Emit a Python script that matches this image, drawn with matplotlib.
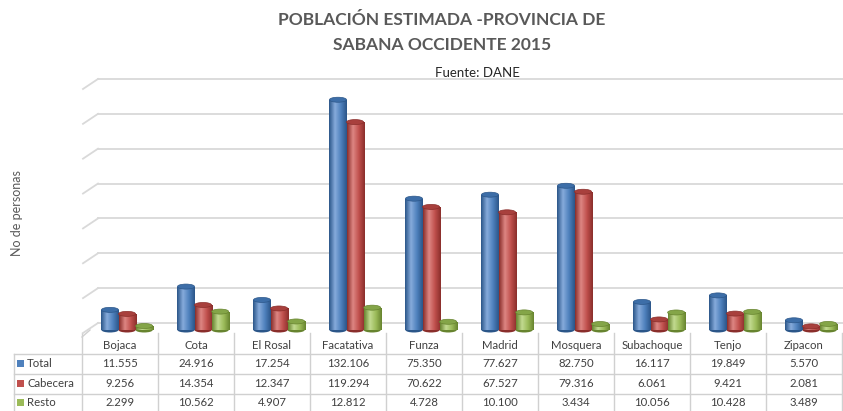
import numpy as np
import matplotlib
matplotlib.use('Agg')
import matplotlib.pyplot as plt
from matplotlib.colors import LinearSegmentedColormap, to_rgb
from matplotlib.patches import Ellipse, Rectangle
from matplotlib.lines import Line2D

plt.rcParams['font.family'] = ['Lato', 'DejaVu Sans']

categories = ['Bojaca', 'Cota', 'El Rosal', 'Facatativa', 'Funza', 'Madrid',
              'Mosquera', 'Subachoque', 'Tenjo', 'Zipacon']
series_names = ['Total', 'Cabecera', 'Resto']
total = [11555, 24916, 17254, 132106, 75350, 77627, 82750, 16117, 19849, 5570]
cabecera = [9256, 14354, 12347, 119294, 70622, 67527, 79316, 6061, 9421, 2081]
resto = [2299, 10562, 4907, 12812, 4728, 10100, 3434, 10056, 10428, 3489]
series = [total, cabecera, resto]
grid_values = list(range(0, 140001, 20000))

base_colors = ['#4F81BD', '#C0504D', '#9BBB59']
dark_colors = ['#2B5689', '#8A2E2B', '#67842F']
light_colors = ['#86ABDB', '#DD8683', '#C2DA90']
top_colors = ['#3D6EA8', '#A8403D', '#84A548']

W, H = 843, 411
fig = plt.figure(figsize=(W / 100, H / 100), dpi=100)
fig.patch.set_facecolor('white')

# overlay in pixel coordinates for text/table
ov = fig.add_axes([0, 0, 1, 1])
ov.set_xlim(0, W)
ov.set_ylim(H, 0)
ov.axis('off')

ax = fig.add_axes([83 / W, 81 / H, 760 / W, 251 / H])
ax.set_xlim(-0.5, len(categories) - 0.5)
ymax = 144000
ax.set_ylim(0, ymax)
ax.axis('off')

px_per_unit_y = 251 / ymax
px_per_cat = 76.0
back_dy = 7 / px_per_unit_y
diag_dx = 15 / px_per_cat
diag_dy = 10 / px_per_unit_y

grid_col = '#D9D9D9'
for v in grid_values:
    ax.plot([-0.5 + diag_dx, len(categories) - 0.5], [v + back_dy] * 2,
            color=grid_col, lw=1.3, clip_on=False, zorder=1)
    ax.plot([-0.5, -0.5 + diag_dx], [v + back_dy - diag_dy, v + back_dy],
            color=grid_col, lw=1.3, clip_on=False, zorder=1)

bw = 0.225
offset = 0.08
x = np.arange(len(categories))
ell_h = 5 / px_per_unit_y
for j, vals in enumerate(series):
    cmap = LinearSegmentedColormap.from_list(
        'c%d' % j, [dark_colors[j], light_colors[j], base_colors[j], dark_colors[j]])
    grad = np.linspace(0, 1, 64).reshape(1, -1)
    xs = x + offset + (j - 1) * bw
    bars = ax.bar(xs, vals, width=bw, color=base_colors[j], zorder=3, linewidth=0)
    for b, v in zip(bars, vals):
        x0 = b.get_x()
        im = ax.imshow(grad, cmap=cmap, aspect='auto',
                       extent=(x0, x0 + bw, 0, v), zorder=4, interpolation='bilinear')
        im.set_clip_path(b)
        # bottom ellipse
        ax.add_patch(Ellipse((x0 + bw / 2, 0), bw, ell_h, facecolor=dark_colors[j],
                             edgecolor='none', zorder=3.5, clip_on=False))
        ax.add_patch(Ellipse((x0 + bw / 2, v), bw, ell_h, facecolor=top_colors[j],
                             edgecolor=dark_colors[j], lw=0.5, zorder=5, clip_on=False))
ax.set_xlim(-0.5, len(categories) - 0.5)
ax.set_ylim(0, ymax)

# title and texts
ov.text(442, 20, 'POBLACIÓN ESTIMADA -PROVINCIA DE', ha='center', va='center',
        fontsize=12.5, fontweight='bold', color='#595959')
ov.text(442, 45, 'SABANA OCCIDENTE 2015', ha='center', va='center',
        fontsize=12.5, fontweight='bold', color='#595959')
ov.text(477, 73, 'Fuente: DANE', ha='center', va='center', fontsize=9.5, color='#262626')
ov.text(17, 213, 'No de personas', ha='center', va='center', rotation=90,
        fontsize=9, color='#595959')

# data table
tcol = '#D0D0D0'
left0 = 82
edges = [left0 + px_per_cat * k for k in range(len(categories) + 1)]
for e in edges:
    ov.add_line(Line2D([e, e], [333, H], color=tcol, lw=1))
ov.add_line(Line2D([14, 14], [354, H], color=tcol, lw=1))
row_lines = [354, 374, 394]
for r in row_lines:
    ov.add_line(Line2D([14, W], [r, r], color=tcol, lw=1))
ov.add_line(Line2D([82, 90], [337, 330], color=tcol, lw=1))

txt_col = '#404040'
row_y = [363, 383, 402]
for i, c in enumerate(categories):
    cx = left0 + px_per_cat * (i + 0.5)
    ov.text(cx, 345, c, ha='center', va='center', fontsize=8.2, color=txt_col)
    for r, vals in enumerate(series):
        ov.text(cx, row_y[r], f"{vals[i]:,}".replace(',', '.'), ha='center',
                va='center', fontsize=8.2, color=txt_col)
for r, name in enumerate(series_names):
    ov.add_patch(Rectangle((17, row_y[r] - 3.5), 7, 7, facecolor=base_colors[r],
                           edgecolor='none'))
    ov.text(27, row_y[r], name, ha='left', va='center', fontsize=8.2, color=txt_col)

fig.savefig('out.png', dpi=100, facecolor='white')
